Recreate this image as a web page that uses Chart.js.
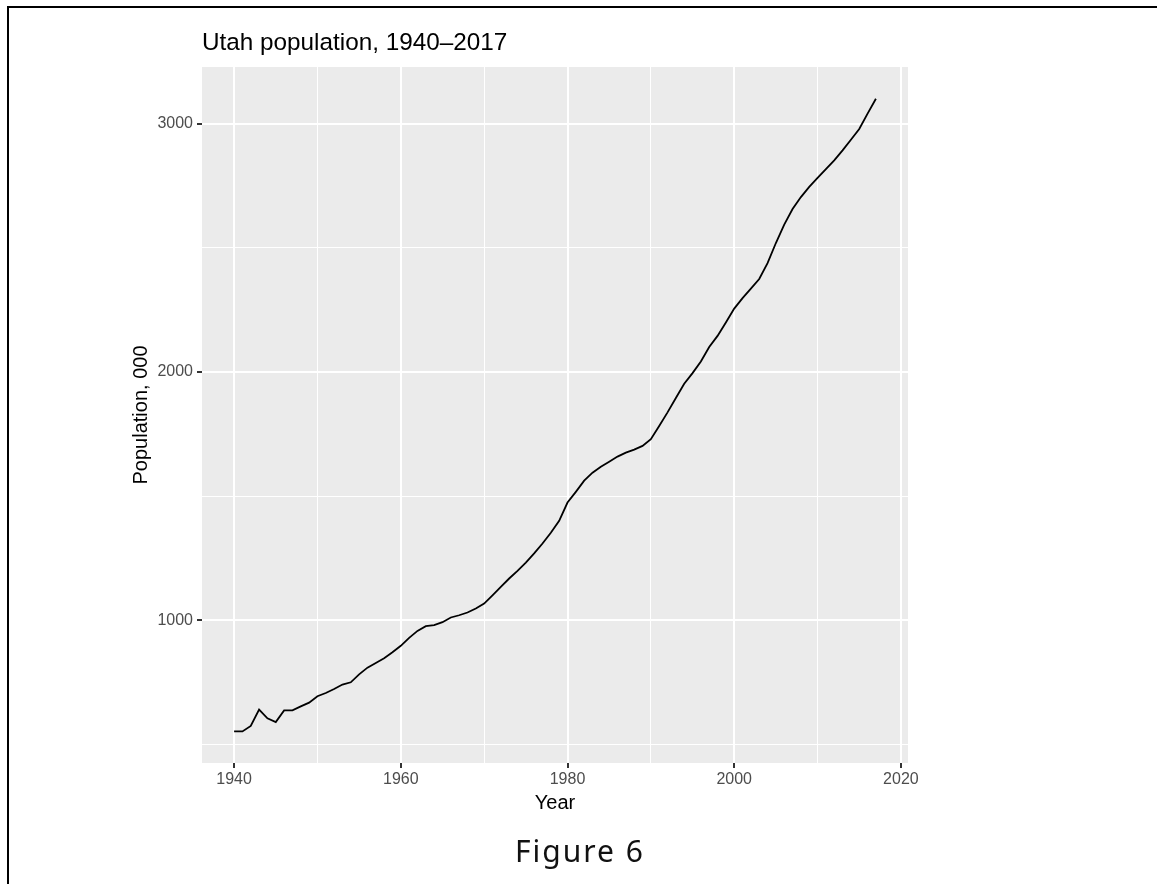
<!DOCTYPE html>
<html>
<head>
<meta charset="utf-8">
<script src="https://cdn.jsdelivr.net/npm/chart.js@4/dist/chart.umd.min.js"></script>
<style>
  html, body { margin: 0; padding: 0; background: #fff; }
  #wrap { position: relative; width: 1157px; height: 884px; overflow: hidden; }
  #frame { position: absolute; left: 7px; top: 6px; width: 1200px; height: 1000px;
           border-top: 2px solid #000; border-left: 2px solid #000; }
  #fig { position: absolute; left: 0; top: 836px; width: 1160px; text-align: center;
         font-family: "Noto Sans", sans-serif; font-size: 30px; line-height: 30px;
         letter-spacing: 2px; color: #111; }
  canvas { position: absolute; left: 0; top: 0; }
</style>
</head>
<body>
<div id="wrap">
  <div id="frame"></div>
  <canvas id="c" width="1157" height="884"></canvas>
  <div id="fig">Figure 6</div>
</div>
<script>
// Utah population (thousands)
const years = [
  1940, 1941, 1942, 1943, 1944, 1945, 1946, 1947, 1948, 1949,
  1950, 1951, 1952, 1953, 1954, 1955, 1956, 1957, 1958, 1959,
  1960, 1961, 1962, 1963, 1964, 1965, 1966, 1967, 1968, 1969,
  1970, 1971, 1972, 1973, 1974, 1975, 1976, 1977, 1978, 1979,
  1980, 1981, 1982, 1983, 1984, 1985, 1986, 1987, 1988, 1989,
  1990, 1991, 1992, 1993, 1994, 1995, 1996, 1997, 1998, 1999,
  2000, 2001, 2002, 2003, 2004, 2005, 2006, 2007, 2008, 2009,
  2010, 2011, 2012, 2013, 2014, 2015, 2016, 2017
];
const population = [
  552, 552, 574, 640, 605, 590, 637, 637, 653, 668,
  694, 707, 723, 741, 750, 782, 809, 828, 847, 871,
  897, 929, 957, 976, 980, 992, 1011, 1020, 1031, 1047,
  1067, 1100, 1134, 1168, 1199, 1232, 1269, 1309, 1352, 1400,
  1474, 1517, 1562, 1594, 1618, 1638, 1659, 1675, 1687, 1702,
  1729, 1782, 1837, 1895, 1952, 1995, 2042, 2100, 2145, 2199,
  2255, 2297, 2335, 2374, 2438, 2519, 2593, 2656, 2704, 2745,
  2781, 2817, 2852, 2892, 2935, 2978, 3040, 3100
];
const xGrid = [1940, 1950, 1960, 1970, 1980, 1990, 2000, 2010, 2020];
const xLabels = [1940, 1960, 1980, 2000, 2020];
const yGrid = [500, 1000, 1500, 2000, 2500, 3000];
const yLabels = [1000, 2000, 3000];

const FONT = "'Liberation Sans', Arial, sans-serif";

const panelBg = {
  id: "panelBg",
  beforeDraw(chart) {
    const { ctx, chartArea: a } = chart;
    ctx.save();
    ctx.fillStyle = "#EBEBEB";
    ctx.fillRect(a.left, a.top, a.right - a.left, a.bottom - a.top);
    ctx.restore();
  }
};

function gridOpts(labels) {
  return {
    color: "#FFFFFF",
    lineWidth: c => labels.includes(c.tick.value) ? 2 : 1,
    tickColor: c => labels.includes(c.tick.value) ? "#333333" : "rgba(0,0,0,0)",
    tickWidth: 2,
    tickLength: 5,
    drawTicks: true
  };
}

new Chart(document.getElementById("c").getContext("2d"), {
  type: "line",
  data: {
    datasets: [{
      data: years.map((y, i) => ({ x: y, y: population[i] })),
      borderColor: "#000000",
      borderWidth: 1.8,
      pointRadius: 0,
      tension: 0,
      fill: false
    }]
  },
  options: {
    responsive: false,
    animation: false,
    layout: { padding: { left: 120, right: 249, top: 20, bottom: 66 } },
    plugins: {
      legend: { display: false },
      tooltip: { enabled: false },
      title: {
        display: true,
        text: "Utah population, 1940\u20132017",
        align: "start",
        fullSize: false,
        color: "#000000",
        font: { family: FONT, size: 24.3, weight: "normal", lineHeight: 1.2 },
        padding: { top: 9.2, bottom: 8.6 }
      }
    },
    scales: {
      x: {
        type: "linear",
        min: 1936.15,
        max: 2020.85,
        afterBuildTicks: s => { s.ticks = xGrid.map(v => ({ value: v })); },
        afterFit: s => { s.height = 55; },
        border: { display: false },
        grid: gridOpts(xLabels),
        ticks: {
          autoSkip: false,
          maxRotation: 0,
          padding: 2,
          color: "#4D4D4D",
          font: { family: FONT, size: 16 },
          callback: v => xLabels.includes(v) ? String(v) : ""
        },
        title: {
          display: true,
          text: "Year",
          color: "#000000",
          font: { family: FONT, size: 20, lineHeight: 1.2 },
          padding: { top: 0, bottom: 2.5 }
        }
      },
      y: {
        type: "linear",
        min: 425,
        max: 3228,
        afterBuildTicks: s => { s.ticks = yGrid.map(v => ({ value: v })); },
        afterFit: s => { s.width = 82; },
        border: { display: false },
        grid: gridOpts(yLabels),
        ticks: {
          autoSkip: false,
          padding: 4,
          color: "#4D4D4D",
          font: { family: FONT, size: 16 },
          callback: v => yLabels.includes(v) ? String(v) : ""
        },
        title: {
          display: true,
          text: "Population, 000",
          color: "#000000",
          font: { family: FONT, size: 20, lineHeight: 1.2 },
          padding: { top: 9, bottom: 0 }
        }
      }
    }
  },
  plugins: [panelBg]
});
</script>
</body>
</html>
